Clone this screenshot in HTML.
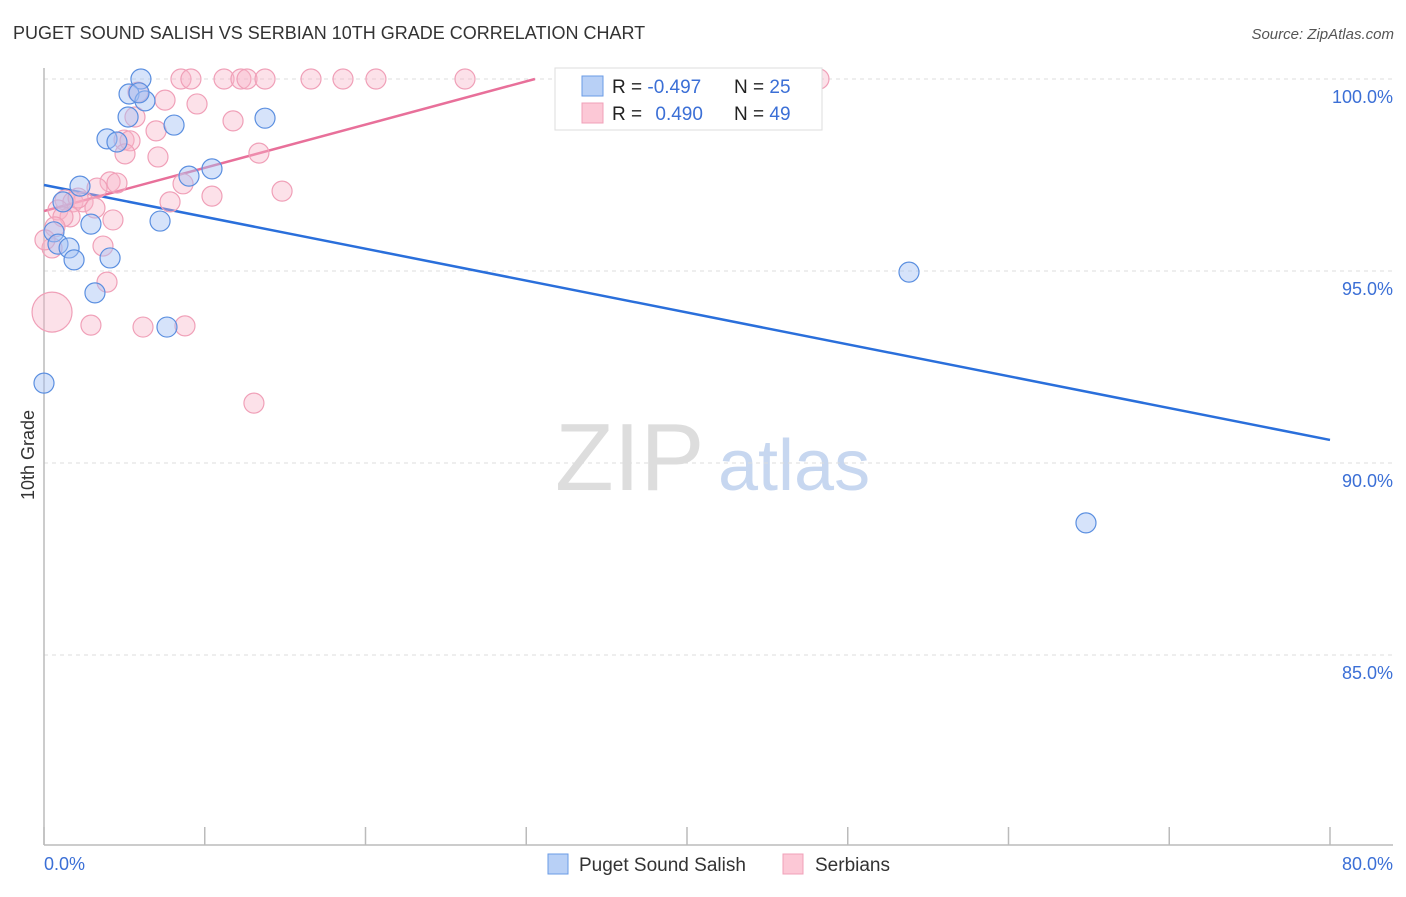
<!DOCTYPE html>
<html><head><meta charset="utf-8"><style>
body{margin:0;background:#fff;font-family:"Liberation Sans",sans-serif}
svg text{font-family:"Liberation Sans",sans-serif}
</style></head><body>
<svg id="chart" width="1406" height="892" xmlns="http://www.w3.org/2000/svg">
<text x="13" y="39" font-size="18" fill="#333">PUGET SOUND SALISH VS SERBIAN 10TH GRADE CORRELATION CHART</text>
<text x="1394" y="39" font-size="15" fill="#555" text-anchor="end" font-style="italic">Source: ZipAtlas.com</text>
<g>
<text x="555" y="490" font-size="96" fill="#ddd" font-family="Liberation Serif">ZIP</text>
<text x="718" y="490" font-size="72" fill="#c7d7f0">atlas</text>
</g>
<g id="grid"></g>
<g id="axes"></g>
<g id="trend"></g>
<g id="points"></g>
<text transform="translate(34,455) rotate(-90)" font-size="18" fill="#333" text-anchor="middle">10th Grade</text>
<g>
<rect x="555" y="68" width="267" height="62" fill="#fff" stroke="#ddd"/>
<rect x="582" y="76" width="21" height="20" fill="#b8d0f6" stroke="#6a9be6"/>
<rect x="582" y="103" width="21" height="20" fill="#fcc8d6" stroke="#f0a0b8"/>
<text x="612" y="93" font-size="19" fill="#222">R = <tspan fill="#3b6fd6">-0.497</tspan></text>
<text x="734" y="93" font-size="19" fill="#222">N = <tspan fill="#3b6fd6">25</tspan></text>
<text x="612" y="120" font-size="19" fill="#222">R = <tspan fill="#3b6fd6" dx="8">0.490</tspan></text>
<text x="734" y="120" font-size="19" fill="#222">N = <tspan fill="#3b6fd6">49</tspan></text>
</g>
<g>
<rect x="548" y="854" width="20" height="20" fill="#b8d0f6" stroke="#6a9be6"/>
<text x="579" y="871" font-size="19" fill="#333">Puget Sound Salish</text>
<rect x="783" y="854" width="20" height="20" fill="#fcc8d6" stroke="#f0a0b8"/>
<text x="815" y="871" font-size="19" fill="#333">Serbians</text>
</g>
</svg>
<script>
const blueX=[6.03,5.29,6.28,5.91,5.23,8.09,13.75,3.92,4.54,10.45,9.02,2.24,1.18,7.22,2.92,0.62,0.87,1.56,1.87,4.11,3.17,7.65,0,53.81,64.82];
const blueY=[100,99.61,99.43,99.64,99.01,98.80,98.98,98.44,98.36,97.66,97.47,97.21,96.80,96.30,96.22,96.02,95.70,95.60,95.29,95.34,94.43,93.54,92.08,94.97,88.44];
const pinkX=[8.52,9.14,11.20,12.25,12.63,13.75,16.61,18.60,20.65,26.19,37.26,48.21,5.85,7.53,9.52,5.66,11.76,6.97,4.98,5.35,5.04,7.09,13.37,8.65,10.45,14.81,4.11,4.54,3.30,7.84,1.31,1.80,2.43,3.17,0.87,1.62,1.18,4.29,0.68,0.50,3.67,3.92,0.50,2.92,6.16,8.77,13.06,2.12,0.06];
const pinkY=[100,100,100,100,100,100,100,100,100,100,100,100,99.66,99.45,99.35,99.01,98.91,98.65,98.41,98.39,98.05,97.97,98.07,97.27,96.95,97.08,97.32,97.29,97.16,96.80,96.85,96.80,96.80,96.64,96.59,96.41,96.41,96.33,96.15,95.60,95.65,94.71,93.93,93.59,93.54,93.57,91.56,96.90,95.81];
const pinkBig=[42];
const blueTrendX=[0,80];
const blueTrendY=[97.24,90.60];
const pinkTrendX=[0,30.54];
const pinkTrendY=[96.56,100];
const yTicks=[100,95,90,85];
const yTickLabels=["100.0%","95.0%","90.0%","85.0%"];
const xTicks=[0,10,20,30,40,50,60,70,80];
const NS="http://www.w3.org/2000/svg";
const X=v=>44+v/80*1286;
const Y=v=>79+(100-v)*38.4;
function mk(tag,attrs,parent){const e=document.createElementNS(NS,tag);for(const k in attrs)e.setAttribute(k,attrs[k]);parent.appendChild(e);return e;}
const grid=document.getElementById('grid'),axes=document.getElementById('axes'),trend=document.getElementById('trend'),pts=document.getElementById('points');
yTicks.forEach((t,i)=>{
 const l=mk('line',{x1:44,x2:1393,y1:Y(t),y2:Y(t),stroke:'#ddd','stroke-dasharray':'4,4'},grid);
 
 
 const tx=mk('text',{x:1393,y:Y(t)+24,'font-size':18,fill:'#3b6fd6','text-anchor':'end'},axes);
 tx.textContent=yTickLabels[i];
 
 
});
const ya=mk('line',{x1:44,x2:44,y1:68,y2:845,stroke:'#bbb','stroke-width':1.5},axes);


const xa=mk('line',{x1:44,x2:1393,y1:845,y2:845,stroke:'#bbb','stroke-width':1.5},axes);


xTicks.forEach(t=>{
 const k=mk('line',{x1:X(t),x2:X(t),y1:827,y2:845,stroke:'#bbb','stroke-width':1.5},axes);
 
 
});
const x0=mk('text',{x:44,y:870,'font-size':18,fill:'#3b6fd6'},axes);x0.textContent='0.0%';


const x1=mk('text',{x:1393,y:870,'font-size':18,fill:'#3b6fd6','text-anchor':'end'},axes);x1.textContent='80.0%';


pinkX.forEach((v,i)=>{
 const c=mk('circle',{cx:X(v),cy:Y(pinkY[i]),r:pinkBig.includes(i)?20:10,fill:'rgba(248,180,200,0.4)',stroke:'#f0a0b8','stroke-width':1.2},pts);
 
 
});
blueX.forEach((v,i)=>{
 const c=mk('circle',{cx:X(v),cy:Y(blueY[i]),r:10,fill:'rgba(164,194,244,0.45)',stroke:'#5b8fe0','stroke-width':1.2},pts);
 
 
});
const bt=mk('line',{x1:X(blueTrendX[0]),y1:Y(blueTrendY[0]),x2:X(blueTrendX[1]),y2:Y(blueTrendY[1]),stroke:'#2a6fdb','stroke-width':2.5},trend);


const pt=mk('line',{x1:X(pinkTrendX[0]),y1:Y(pinkTrendY[0]),x2:X(pinkTrendX[1]),y2:Y(pinkTrendY[1]),stroke:'#e8709a','stroke-width':2.5},trend);


</script>
</body></html>
